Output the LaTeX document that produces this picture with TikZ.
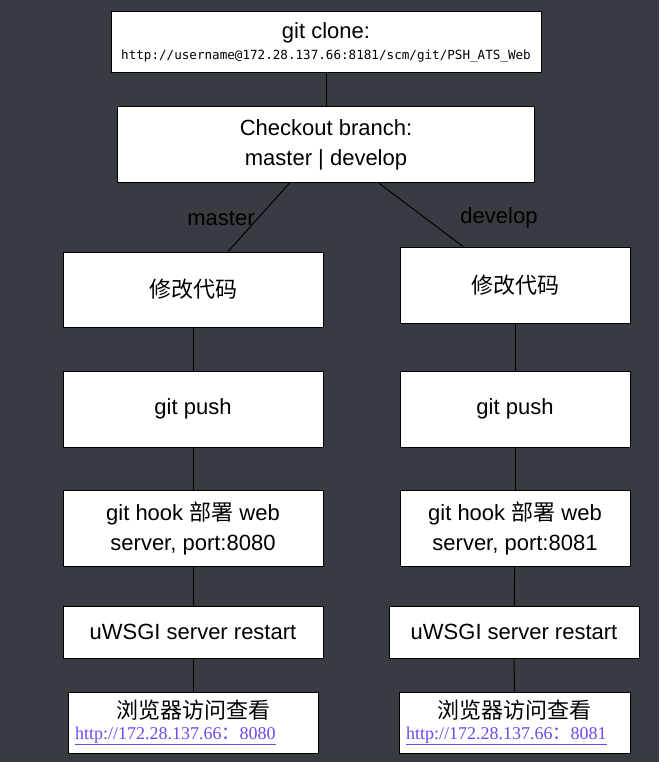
\documentclass[tikz,border=0pt]{standalone}
\usepackage{fontspec}
\setmainfont{Liberation Sans}
\newfontfamily\cjk{Noto Sans CJK SC}
\newfontfamily\clonefont{DejaVu Sans Mono}
\newfontfamily\linkfont{Liberation Serif}
\definecolor{bgdark}{RGB}{56,59,66}
\definecolor{linkpurple}{RGB}{112,72,240}
\tikzset{
  box/.style={draw=black, fill=white, line width=1pt, inner sep=0pt,
    align=center, font=\fontsize{22}{30}\selectfont},
  branchlabel/.style={text=black, inner sep=0pt, font=\fontsize{22}{26}\selectfont},
}
\newcommand{\linkline}[1]{{\color{linkpurple}\linkfont\fontsize{18}{22}\selectfont\underline{http://172.28.137.66{\cjk ：}#1}}}
\begin{document}
\begin{tikzpicture}[x=1pt,y=-1pt]
  \fill[bgdark] (0,0) rectangle (659,762);
  \node[box, minimum width=430pt, minimum height=61pt] (clone) at (326,42.5)
    {git clone:\\[-9pt]{\clonefont\fontsize{12.6}{14}\selectfont http://username@172.28.137.66:8181/scm/git/PSH\_ATS\_Web}};
  \node[box, minimum width=417pt, minimum height=75pt] (checkout) at (326,144.5)
    {Checkout branch:\\master | develop};
  \node[branchlabel] (mlabel) at (221,218) {master};
  \node[branchlabel] (dlabel) at (499,218) {develop};
  % master
  \node[box, minimum width=260pt, minimum height=75pt] (modL) at (193,289.5) {\cjk 修改代码};
  \node[box, minimum width=260pt, minimum height=76pt] (pushL) at (193,409) {git push};
  \node[box, minimum width=260pt, minimum height=76pt] (hookL) at (193,528)
    {git hook {\cjk 部署} web\\server, port:8080};
  \node[box, minimum width=260pt, minimum height=52pt] (uwsgiL) at (193,632) {uWSGI server restart};
  \node[box, minimum width=250pt, minimum height=61pt, text width=236pt, align=left,
    font=\fontsize{22}{21}\selectfont] (viewL) at (193,722.5)
    {\hfil{\cjk 浏览器访问查看}\hfil\\\linkline{8080}};
  % develop
  \node[box, minimum width=230pt, minimum height=76pt] (modR) at (515,285) {\cjk 修改代码};
  \node[box, minimum width=230pt, minimum height=76pt] (pushR) at (515,409) {git push};
  \node[box, minimum width=230pt, minimum height=76pt] (hookR) at (515,528)
    {git hook {\cjk 部署} web\\server, port:8081};
  \node[box, minimum width=250pt, minimum height=52pt] (uwsgiR) at (514,632) {uWSGI server restart};
  \node[box, minimum width=231pt, minimum height=61pt, text width=217pt, align=left,
    font=\fontsize{22}{21}\selectfont] (viewR) at (514.5,722.5)
    {\hfil{\cjk 浏览器访问查看}\hfil\\\linkline{8081}};
  \begin{scope}[line width=1pt, black]
    \draw (clone) to (checkout);
    \draw ([xshift=-36pt]checkout.south) to ([xshift=35pt]modL.north);
    \draw ([xshift=52pt]checkout.south) to ([xshift=-52pt]modR.north);
    \draw (modL) to (pushL);
    \draw (pushL) to (hookL);
    \draw (hookL) to (uwsgiL);
    \draw (uwsgiL) to (viewL);
    \draw (modR) to (pushR);
    \draw (pushR) to (hookR);
    \draw (hookR) to (uwsgiR);
    \draw (uwsgiR) to (viewR);
  \end{scope}
\end{tikzpicture}
\end{document}
